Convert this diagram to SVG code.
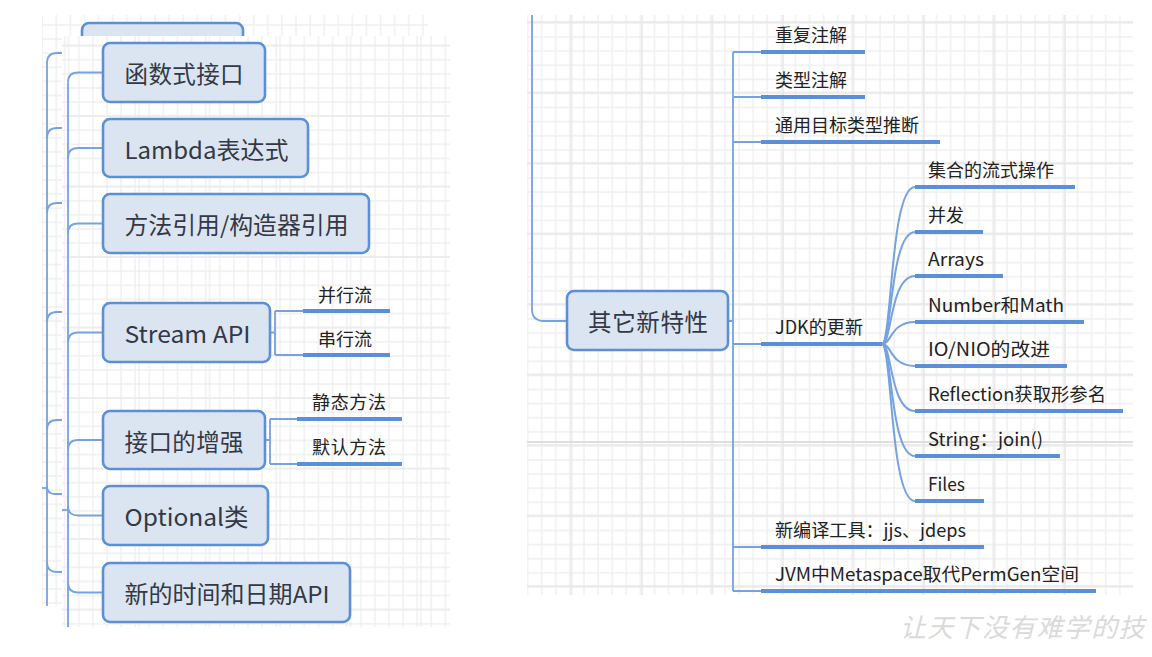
<svg xmlns="http://www.w3.org/2000/svg" width="1152" height="657" viewBox="0 0 1152 657">
  <defs>
    <!-- grid tiles: thin lines every 14.1px, slightly stronger every 5 cells -->
    <pattern id="gridR" patternUnits="userSpaceOnUse" x="540.7" y="22" width="14.1" height="14.1">
      <path d="M1,0 V14.1 M0,1 H14.1" stroke="#eeeeee" stroke-width="1.3" fill="none"/>
    </pattern>
    <pattern id="gridRmaj" patternUnits="userSpaceOnUse" x="641" y="162" width="70.5" height="70.5">
      <path d="M1,0 V70.5 M0,1 H70.5" stroke="#e7e7e7" stroke-width="1.5" fill="none"/>
    </pattern>
    <pattern id="gridF" patternUnits="userSpaceOnUse" x="7.3" y="44.7" width="14.1" height="14.1">
      <path d="M1,0 V14.1 M0,1 H14.1" stroke="#eeeeee" stroke-width="1.3" fill="none"/>
    </pattern>
    <pattern id="gridFmaj" patternUnits="userSpaceOnUse" x="-3" y="-26" width="70.5" height="70.5">
      <path d="M1,0 V70.5 M0,1 H70.5" stroke="#e7e7e7" stroke-width="1.5" fill="none"/>
    </pattern>
    <pattern id="gridB" patternUnits="userSpaceOnUse" x="337.3" y="24" width="14.1" height="14.1">
      <path d="M1,0 V14.1 M0,1 H14.1" stroke="#eeeeee" stroke-width="1.3" fill="none"/>
    </pattern>
  </defs>
  <style>
    .box{fill:#dbe5f2;stroke:#5b8fd7;stroke-width:2.6}
    .bt{font-family:"Noto Sans CJK SC","Noto Sans",sans-serif;font-size:23.5px;fill:#343844;dominant-baseline:central}
    .lt{font-family:"Noto Sans CJK SC","Noto Sans",sans-serif;font-size:18px;fill:#222222;dominant-baseline:central}
    .ul{stroke:#5b8fd7;stroke-width:4;fill:none}
    .cn{stroke:#76a2df;stroke-width:1.8;fill:none}
    .cv{stroke:#76a2df;stroke-width:2;fill:none}
    .wm{font-family:"Noto Sans CJK SC",sans-serif;font-size:26px;fill:#dadada;letter-spacing:1.5px;font-style:italic;dominant-baseline:central}
  </style>

  <rect width="1152" height="657" fill="#ffffff"/>

  <!-- left: lower sheet (mostly covered) -->
  <g id="sheet-back">
    <rect x="42" y="15" width="386" height="591" fill="#ffffff"/>
    <rect x="42" y="15" width="386" height="591" fill="url(#gridB)"/>
    <rect x="82" y="23" width="161" height="40" rx="7" class="box"/>
    <g class="cn">
      <path d="M42,488 H47"/>
      <path d="M47,63 V606"/>
      <path d="M47,63 Q47,53 57,53 H62"/>
      <path d="M47,138 Q47,128 57,128 H62"/>
      <path d="M47,213 Q47,203 57,203 H62"/>
      <path d="M47,322 Q47,312 57,312 H62"/>
      <path d="M47,430 Q47,420 57,420 H62"/>
      <path d="M47,486 Q47,494 55,494 H62"/>
      <path d="M47,562 Q47,572 57,572 H62"/>
    </g>
  </g>

  <!-- left: upper sheet -->
  <g id="sheet-front">
    <rect x="62" y="36" width="388" height="591" fill="#ffffff"/>
    <rect x="62" y="36" width="388" height="591" fill="url(#gridF)"/>
    <rect x="62" y="36" width="388" height="591" fill="url(#gridFmaj)" opacity="0.6"/>
  </g>

  <!-- right sheet -->
  <g id="sheet-right">
    <rect x="527" y="15" width="606" height="580" fill="url(#gridR)"/>
    <rect x="527" y="15" width="606" height="580" fill="url(#gridRmaj)"/>
    <path d="M527,442 H1133" stroke="#dedede" stroke-width="2"/>
  </g>

  <g id="connectors">
    <!-- left tree -->
    <path class="cn" d="M62,510 H68"/>
    <path class="cn" d="M68,82.5 V627"/>
    <path class="cn" d="M68,82.5 Q68,72.5 78,72.5 H103"/>
    <path class="cn" d="M68,158 Q68,148 78,148 H103"/>
    <path class="cn" d="M68,233.5 Q68,223.5 78,223.5 H103"/>
    <path class="cn" d="M68,342.5 Q68,332.5 78,332.5 H103"/>
    <path class="cn" d="M68,450 Q68,440 78,440 H103"/>
    <path class="cn" d="M68,506 Q68,515.5 78,515.5 H103"/>
    <path class="cn" d="M68,582.5 Q68,592.5 78,592.5 H103"/>
    <!-- Stream API children -->
    <path class="cn" d="M270,332.5 H275 M275,311 V355 M275,311 H303 M275,355 H303"/>
    <!-- interface children -->
    <path class="cn" d="M265,440 H270 M270,419 V464 M270,419 H297 M270,464 H297"/>
    <!-- right tree -->
    <path class="cn" d="M532,15 V309 Q532,321 544,321 H567"/>
    <path class="cn" d="M728,321 H733 M733,52 V591"/>
    <path class="cn" d="M733,52 H761 M733,97 H761 M733,142 H761 M733,344 H761 M733,547 H761 M733,591 H761"/>
    <!-- JDK fan -->
    <g class="cv">
      <path d="M882,344 C892,344 890,187 915,187"/>
      <path d="M882,344 C892,344 890,232 915,232"/>
      <path d="M882,344 C892,344 890,276 915,276"/>
      <path d="M882,344 C892,344 890,322 915,322"/>
      <path d="M882,344 C892,344 890,366 915,366"/>
      <path d="M882,344 C892,344 890,411 915,411"/>
      <path d="M882,344 C892,344 890,456 915,456"/>
      <path d="M882,344 C892,344 890,501 915,501"/>
    </g>
  </g>

  <!-- left topics -->
  <g id="n-functional">
    <rect x="103" y="43" width="162" height="59" rx="7" class="box"/>
    <text x="124.5" y="73" class="bt" textLength="119">函数式接口</text>
  </g>
  <g id="n-lambda">
    <rect x="103" y="119" width="205" height="58" rx="7" class="box"/>
    <text x="124.5" y="148.5" class="bt" textLength="164" lengthAdjust="spacingAndGlyphs">Lambda表达式</text>
  </g>
  <g id="n-methodref">
    <rect x="103" y="194" width="266" height="59" rx="7" class="box"/>
    <text x="124.5" y="224" class="bt" textLength="224" lengthAdjust="spacingAndGlyphs">方法引用/构造器引用</text>
  </g>
  <g id="n-stream">
    <rect x="103" y="303" width="167" height="59" rx="7" class="box"/>
    <text x="124.5" y="333" class="bt" textLength="126" lengthAdjust="spacingAndGlyphs">Stream API</text>
  </g>
  <g id="n-parallel">
    <text x="318" y="294" class="lt">并行流</text>
    <path class="ul" d="M303,311 H390"/>
  </g>
  <g id="n-serial">
    <text x="318" y="338" class="lt">串行流</text>
    <path class="ul" d="M303,355 H390"/>
  </g>
  <g id="n-interface">
    <rect x="103" y="411" width="162" height="58" rx="7" class="box"/>
    <text x="124.5" y="440.5" class="bt" textLength="119">接口的增强</text>
  </g>
  <g id="n-static">
    <text x="312" y="401" class="lt" textLength="74">静态方法</text>
    <path class="ul" d="M297,419 H402"/>
  </g>
  <g id="n-default">
    <text x="312" y="446" class="lt" textLength="74">默认方法</text>
    <path class="ul" d="M297,464 H402"/>
  </g>
  <g id="n-optional">
    <rect x="103" y="486" width="165" height="59" rx="7" class="box"/>
    <text x="124.5" y="516" class="bt" textLength="124" lengthAdjust="spacingAndGlyphs">Optional类</text>
  </g>
  <g id="n-datetime">
    <rect x="103" y="563" width="247" height="59" rx="7" class="box"/>
    <text x="124.5" y="593" class="bt" textLength="205" lengthAdjust="spacingAndGlyphs">新的时间和日期API</text>
  </g>

  <!-- right topics -->
  <g id="n-other">
    <rect x="567" y="291" width="161" height="59" rx="7" class="box"/>
    <text x="588" y="321" class="bt" textLength="120">其它新特性</text>
  </g>
  <g id="n-repeat">
    <text x="775" y="34" class="lt">重复注解</text>
    <path class="ul" d="M761,52 H865"/>
  </g>
  <g id="n-typeanno">
    <text x="775" y="79" class="lt">类型注解</text>
    <path class="ul" d="M761,97 H865"/>
  </g>
  <g id="n-inference">
    <text x="775" y="124" class="lt">通用目标类型推断</text>
    <path class="ul" d="M761,142 H940"/>
  </g>
  <g id="n-jdk">
    <text x="775" y="326" class="lt" textLength="88" lengthAdjust="spacingAndGlyphs">JDK的更新</text>
    <path class="ul" d="M761,344 H882"/>
  </g>
  <g id="n-tools">
    <text x="775" y="529" class="lt" textLength="191" lengthAdjust="spacingAndGlyphs">新编译工具：jjs、jdeps</text>
    <path class="ul" d="M761,547 H984"/>
  </g>
  <g id="n-metaspace">
    <text x="775" y="573" class="lt" textLength="304" lengthAdjust="spacingAndGlyphs">JVM中Metaspace取代PermGen空间</text>
    <path class="ul" d="M761,591 H1096"/>
  </g>

  <!-- JDK update children -->
  <g id="n-collections">
    <text x="928" y="169" class="lt">集合的流式操作</text>
    <path class="ul" d="M915,187 H1075"/>
  </g>
  <g id="n-concurrency">
    <text x="928" y="214" class="lt">并发</text>
    <path class="ul" d="M915,232 H983"/>
  </g>
  <g id="n-arrays">
    <text x="928" y="258" class="lt" textLength="56" lengthAdjust="spacingAndGlyphs">Arrays</text>
    <path class="ul" d="M915,276 H1003"/>
  </g>
  <g id="n-number">
    <text x="928" y="304" class="lt" textLength="136" lengthAdjust="spacingAndGlyphs">Number和Math</text>
    <path class="ul" d="M915,322 H1084"/>
  </g>
  <g id="n-io">
    <text x="928" y="348" class="lt" textLength="122" lengthAdjust="spacingAndGlyphs">IO/NIO的改进</text>
    <path class="ul" d="M915,366 H1067"/>
  </g>
  <g id="n-reflection">
    <text x="928" y="393" class="lt" textLength="178" lengthAdjust="spacingAndGlyphs">Reflection获取形参名</text>
    <path class="ul" d="M915,411 H1123"/>
  </g>
  <g id="n-string">
    <text x="928" y="438" class="lt" textLength="115" lengthAdjust="spacingAndGlyphs">String：join()</text>
    <path class="ul" d="M915,456 H1060"/>
  </g>
  <g id="n-files">
    <text x="928" y="483" class="lt" textLength="37" lengthAdjust="spacingAndGlyphs">Files</text>
    <path class="ul" d="M915,501 H984"/>
  </g>

  <text x="900" y="625" class="wm" textLength="246">让天下没有难学的技</text>
</svg>
